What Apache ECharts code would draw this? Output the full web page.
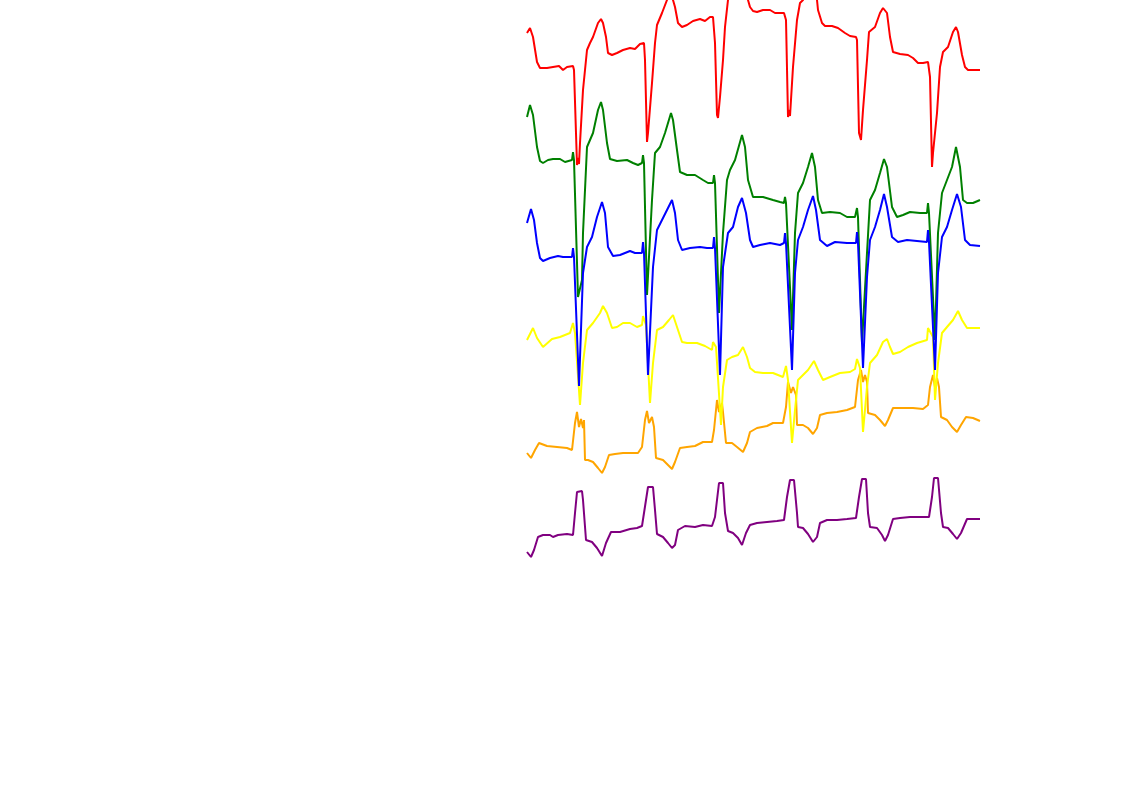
<!DOCTYPE html>
<html>
<head>
<meta charset="utf-8">
<style>html,body{margin:0;padding:0;background:#fff}#chart{width:1122px;height:793px}</style>
<script src="https://cdn.jsdelivr.net/npm/echarts@6/dist/echarts.min.js"></script>
</head>
<body>
<div id="chart"></div>
<script>
// x: sample index, y: amplitude (arbitrary units, traces stacked with offsets)
const leadNames = ['I', 'II', 'III', 'aVR', 'aVL', 'aVF'];
const leadColors = ['#ff0000', '#008000', '#0000ff', '#ffff00', '#ffa500', '#800080'];

const lead1 = [[0,567],[3,572],[6,563],[10,538],[13,532],[20,532],[26,533],[32,534],[36,530],[40,533],[46,534],[47,530],[50,435],[51,442],[52,436],[53,457],[56,510],[60,550],[63,557],[66,563],[71,577],[74,581],[76,577],[79,563],[81,547],[85,545],[90,547],[96,550],[103,552],[108,551],[113,556],[117,557],[118,540],[120,458],[121,467],[125,517],[128,557],[130,575],[135,587],[140,600],[143,606],[146,600],[148,593],[151,577],[155,573],[160,575],[166,579],[173,581],[178,579],[183,583],[186,583],[188,557],[190,485],[191,482],[193,503],[196,540],[198,573],[201,600],[206,612],[212,614],[218,608],[221,600],[223,593],[226,589],[230,588],[236,590],[243,590],[248,587],[253,587],[257,587],[259,580],[261,483],[262,490],[263,484],[266,533],[270,580],[273,597],[276,600],[280,608],[285,612],[289,606],[290,600],[291,590],[295,577],[298,574],[305,574],[311,572],[318,567],[323,564],[329,563],[330,560],[332,467],[334,460],[336,490],[340,540],[342,568],[348,573],[353,587],[356,592],[360,587],[363,563],[366,548],[373,546],[381,545],[386,542],[391,537],[396,537],[401,538],[403,523],[405,433],[406,447],[410,487],[413,533],[416,548],[421,553],[426,568],[429,573],[431,568],[435,545],[438,533],[441,530],[453,530]];

const lead2 = [[0,483],[3,495],[6,485],[10,453],[13,439],[16,437],[21,440],[26,441],[33,441],[38,438],[45,440],[46,448],[47,440],[51,303],[55,320],[56,367],[60,453],[63,460],[66,467],[71,490],[74,498],[76,490],[80,457],[83,441],[90,439],[100,440],[106,437],[111,435],[115,437],[116,445],[117,437],[120,305],[125,400],[128,447],[133,453],[138,467],[144,487],[146,480],[150,450],[153,428],[160,425],[168,425],[176,420],[181,417],[186,417],[187,425],[188,417],[192,287],[196,367],[200,420],[203,430],[208,440],[215,465],[218,453],[221,420],[226,403],[233,403],[236,403],[246,400],[253,398],[257,397],[258,403],[259,397],[265,270],[268,367],[271,407],[276,417],[281,433],[285,447],[288,433],[291,400],[295,387],[303,388],[313,387],[320,383],[328,383],[330,392],[331,383],[335,257],[340,347],[343,400],[348,410],[353,427],[357,441],[360,433],[365,393],[370,383],[376,385],[383,388],[393,387],[400,387],[401,397],[402,387],[408,260],[411,367],[415,407],[420,420],[425,433],[429,453],[433,433],[436,400],[440,397],[446,397],[453,400]];

const lead3 = [[0,377],[4,391],[7,380],[10,357],[13,342],[16,339],[23,342],[31,344],[36,343],[45,343],[46,352],[47,343],[52,214],[56,327],[60,353],[65,363],[70,383],[75,398],[78,387],[81,353],[86,344],[93,345],[103,349],[108,347],[115,347],[116,358],[117,347],[121,225],[126,333],[130,370],[135,380],[140,390],[145,400],[148,387],[151,360],[155,350],[163,352],[173,353],[180,352],[186,352],[187,363],[188,352],[193,225],[196,333],[201,367],[206,373],[211,393],[215,402],[219,387],[223,360],[226,353],[233,355],[243,357],[253,355],[257,357],[258,367],[259,357],[265,230],[268,327],[271,360],[276,373],[281,390],[286,404],[289,390],[293,360],[300,354],[308,358],[320,357],[329,357],[330,368],[331,357],[336,232],[340,323],[343,360],[348,373],[353,390],[357,406],[360,393],[365,363],[371,358],[380,360],[390,359],[400,358],[401,370],[402,358],[408,230],[411,327],[415,363],[420,373],[425,390],[430,406],[434,393],[438,360],[443,355],[453,354]];

const leadAVR = [[0,260],[6,272],[10,262],[16,253],[25,261],[33,263],[43,267],[46,277],[48,267],[53,195],[56,237],[60,270],[66,277],[73,287],[76,294],[80,287],[85,272],[90,273],[96,277],[103,277],[110,273],[115,275],[116,284],[119,275],[123,197],[126,237],[130,270],[136,273],[142,280],[146,285],[150,273],[155,258],[160,257],[170,257],[178,254],[185,250],[186,258],[189,253],[194,175],[196,213],[200,240],[205,243],[211,245],[216,253],[220,243],[223,232],[228,228],[236,227],[246,227],[256,223],[259,234],[261,220],[265,157],[268,190],[271,220],[276,225],[281,230],[287,239],[291,230],[296,220],[303,223],[313,227],[323,228],[328,231],[330,241],[333,232],[336,168],[340,213],[343,237],[350,245],[356,258],[360,261],[363,253],[366,246],[373,248],[381,253],[390,257],[400,260],[401,272],[406,263],[408,200],[411,237],[415,267],[420,273],[426,280],[431,289],[435,280],[440,272],[446,272],[453,272]];

const leadAVL = [[0,147],[4,142],[8,150],[12,157],[20,154],[30,153],[40,152],[45,150],[48,177],[50,188],[52,173],[54,181],[56,172],[57,180],[58,140],[61,140],[66,138],[71,132],[75,127],[78,133],[82,145],[88,146],[96,147],[105,147],[111,147],[115,153],[118,180],[120,189],[122,177],[125,183],[127,173],[129,142],[136,140],[141,135],[145,131],[148,138],[153,152],[160,153],[168,154],[176,158],[185,158],[187,170],[190,200],[192,188],[195,197],[196,188],[199,157],[205,157],[210,153],[216,148],[220,157],[223,168],[230,172],[240,174],[246,177],[256,177],[259,193],[261,218],[264,207],[266,213],[269,205],[270,175],[276,175],[281,172],[286,166],[290,172],[293,185],[300,187],[310,188],[320,190],[328,193],[331,220],[334,230],[336,218],[338,225],[340,218],[341,187],[348,185],[353,180],[358,174],[361,180],[366,192],[376,192],[386,192],[396,191],[401,195],[403,213],[406,225],[408,213],[410,222],[412,213],[414,183],[420,180],[425,173],[430,168],[434,175],[439,183],[446,182],[453,179]];

const leadAVF = [[0,48],[4,43],[7,50],[11,63],[16,65],[23,65],[26,63],[31,65],[40,66],[46,65],[48,87],[50,108],[55,109],[56,100],[59,60],[65,58],[70,52],[75,44],[79,57],[84,68],[93,68],[103,71],[110,72],[115,74],[117,87],[121,113],[126,113],[128,90],[130,66],[136,63],[141,57],[145,52],[148,55],[151,70],[158,74],[168,73],[176,75],[185,74],[188,83],[192,117],[196,117],[198,87],[201,69],[206,67],[211,62],[215,55],[219,67],[223,75],[230,77],[240,78],[250,79],[257,80],[260,103],[263,120],[267,120],[270,87],[271,73],[276,72],[281,66],[286,58],[290,63],[293,77],[300,80],[310,80],[320,81],[329,82],[332,103],[335,121],[339,121],[341,87],[343,73],[350,72],[355,65],[358,59],[361,65],[366,81],[373,82],[383,83],[393,83],[402,83],[405,103],[407,122],[411,122],[414,87],[416,73],[421,72],[426,66],[430,61],[434,67],[440,81],[446,81],[453,81]];

const leadData = [lead1, lead2, lead3, leadAVR, leadAVL, leadAVF];
const drawOrder = [4, 3, 0, 1, 2, 5];

const chart = echarts.init(document.getElementById('chart'), null, {renderer: 'canvas'});
chart.setOption({
  animation: false,
  backgroundColor: '#ffffff',
  grid: {left: 527, right: 142, top: 0, height: 600, containLabel: false},
  xAxis: {type: 'value', min: 0, max: 453, show: false},
  yAxis: {type: 'value', min: 0, max: 600, show: false},
  series: drawOrder.map(i => ({
    name: leadNames[i],
    type: 'line',
    data: leadData[i],
    showSymbol: false,
    symbol: 'none',
    clip: true,
    lineStyle: {color: leadColors[i], width: 2},
    itemStyle: {color: leadColors[i]}
  }))
});
</script>
</body>
</html>
